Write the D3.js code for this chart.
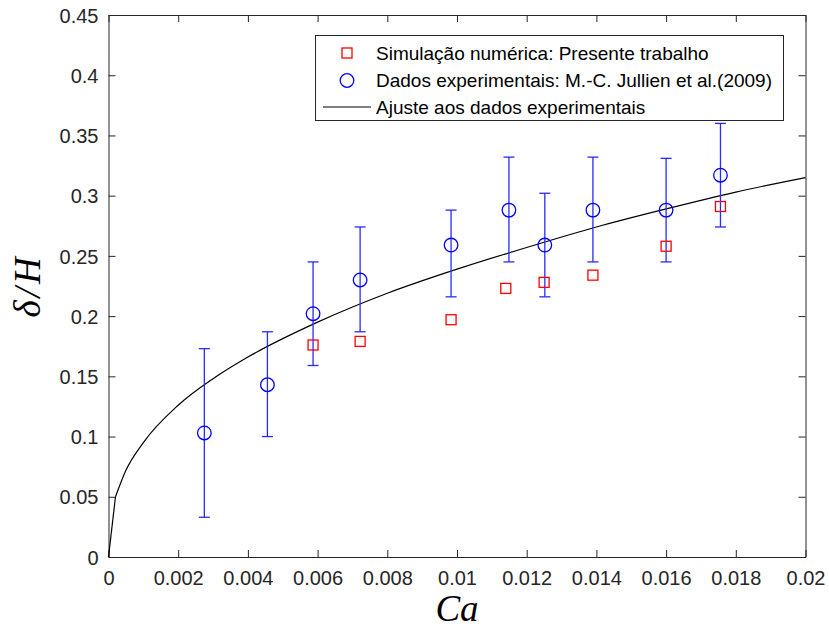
<!DOCTYPE html>
<html>
<head>
<meta charset="utf-8">
<script src="https://cdn.jsdelivr.net/npm/d3@7"></script>
<style>
  body { margin: 0; background: #fff; }
  svg { display: block; }
  .tick text { font-family: "Liberation Sans", Arial, sans-serif; font-size: 20px; fill: #262626; }
</style>
</head>
<body>
<div id="chart"></div>
<script>
// numerical simulation (red squares)
const simCa = [0.00587, 0.00722, 0.00983, 0.0114, 0.0125, 0.0139, 0.0160, 0.01756];
const simDelta = [0.176, 0.179, 0.197, 0.223, 0.228, 0.234, 0.258, 0.291];

// experimental data, Jullien et al. (blue circles + error bars)
const expCa = [0.00275, 0.00456, 0.00587, 0.00722, 0.00983, 0.01149, 0.01252, 0.0139, 0.0160, 0.01756];
const expDelta = [0.103, 0.143, 0.202, 0.230, 0.259, 0.288, 0.259, 0.288, 0.288, 0.317];
const expErrLow = [0.070, 0.043, 0.043, 0.043, 0.043, 0.043, 0.043, 0.043, 0.043, 0.043];
const expErrHigh = [0.070, 0.044, 0.043, 0.044, 0.029, 0.044, 0.043, 0.044, 0.043, 0.043];

// fit curve
const fitCa = [0, 0.0002, 0.0005, 0.001, 0.002, 0.003, 0.004, 0.006, 0.008, 0.010, 0.012, 0.014, 0.016, 0.018, 0.020];
const fitDelta = [0, 0.050, 0.072, 0.095, 0.126, 0.148, 0.166, 0.195, 0.219, 0.239, 0.257, 0.274, 0.289, 0.303, 0.315];

const xTicks = [0, 0.002, 0.004, 0.006, 0.008, 0.01, 0.012, 0.014, 0.016, 0.018, 0.02];
const yTicks = [0, 0.05, 0.1, 0.15, 0.2, 0.25, 0.3, 0.35, 0.4, 0.45];

const legendLabels = [
  "Simulação numérica: Presente trabalho",
  "Dados experimentais: M.-C. Jullien et al.(2009)",
  "Ajuste aos dados experimentais"
];

const W = 829, H = 632;
const plotL = 108.5, plotR = 805.5, plotT = 15, plotB = 557;
const axisColor = "#262626";

const svg = d3.select("#chart").append("svg")
  .attr("width", W)
  .attr("height", H);

const x = d3.scaleLinear().domain([0, 0.02]).range([plotL, plotR]);
const y = d3.scaleLinear().domain([0, 0.45]).range([plotB, plotT]);

const fmt = d => String(+d.toFixed(4));

// axes with inward ticks
const gx = svg.append("g")
  .attr("transform", `translate(0,${plotB})`)
  .call(d3.axisBottom(x).tickValues(xTicks).tickFormat(fmt).tickSizeInner(-7).tickSizeOuter(0).tickPadding(14));
const gy = svg.append("g")
  .attr("transform", `translate(${plotL},0)`)
  .call(d3.axisLeft(y).tickValues(yTicks).tickFormat(fmt).tickSizeInner(-7).tickSizeOuter(0).tickPadding(10));
const gx2 = svg.append("g")
  .attr("transform", `translate(0,${plotT})`)
  .call(d3.axisTop(x).tickValues(xTicks).tickFormat("").tickSizeInner(-7).tickSizeOuter(0));
const gy2 = svg.append("g")
  .attr("transform", `translate(${plotR},0)`)
  .call(d3.axisRight(y).tickValues(yTicks).tickFormat("").tickSizeInner(-7).tickSizeOuter(0));

[gx, gy, gx2, gy2].forEach(g => {
  g.select(".domain").attr("stroke", axisColor);
  g.selectAll(".tick line").attr("stroke", axisColor);
});
gy.selectAll(".tick text").attr("dy", "0.36em");

// fit curve: straight first segment, smooth afterwards
const fitPts = fitCa.map((c, i) => [c, fitDelta[i]]);
const fitG = svg.append("g")
  .attr("fill", "none")
  .attr("stroke", "#000")
  .attr("stroke-width", 1.2);
fitG.append("path")
  .datum(fitPts.slice(0, 2))
  .attr("d", d3.line().x(d => x(d[0])).y(d => y(d[1])));
fitG.append("path")
  .datum(fitPts.slice(1))
  .attr("d", d3.line().x(d => x(d[0])).y(d => y(d[1])).curve(d3.curveMonotoneX));

// error bars
const exp = expCa.map((c, i) => ({ c, d: expDelta[i], lo: expErrLow[i], hi: expErrHigh[i] }));
const eb = svg.append("g").attr("stroke", "#2a2aff").attr("stroke-width", 1.3);
eb.selectAll("line.v").data(exp).enter().append("line")
  .attr("x1", d => x(d.c)).attr("x2", d => x(d.c))
  .attr("y1", d => y(d.d - d.lo)).attr("y2", d => y(d.d + d.hi));
eb.selectAll("line.t").data(exp).enter().append("line")
  .attr("x1", d => x(d.c) - 5.5).attr("x2", d => x(d.c) + 5.5)
  .attr("y1", d => y(d.d + d.hi)).attr("y2", d => y(d.d + d.hi));
eb.selectAll("line.b").data(exp).enter().append("line")
  .attr("x1", d => x(d.c) - 5.5).attr("x2", d => x(d.c) + 5.5)
  .attr("y1", d => y(d.d - d.lo)).attr("y2", d => y(d.d - d.lo));

// squares
const sim = simCa.map((c, i) => ({ c, d: simDelta[i] }));
svg.append("g").selectAll("rect").data(sim).enter().append("rect")
  .attr("x", d => x(d.c) - 5).attr("y", d => y(d.d) - 5)
  .attr("width", 10).attr("height", 10)
  .attr("fill", "none").attr("stroke", "#ff0000").attr("stroke-width", 1.3);

// circles
svg.append("g").selectAll("circle").data(exp).enter().append("circle")
  .attr("cx", d => x(d.c)).attr("cy", d => y(d.d)).attr("r", 6.8)
  .attr("fill", "none").attr("stroke", "#0000ff").attr("stroke-width", 1.3);

// legend
const lg = svg.append("g");
lg.append("rect")
  .attr("x", 315.5).attr("y", 35.5).attr("width", 468).attr("height", 85)
  .attr("fill", "#fff").attr("stroke", axisColor).attr("stroke-width", 1);
const rowY = [53, 80.5, 107];
lg.append("rect").attr("x", 342).attr("y", rowY[0] - 5).attr("width", 10).attr("height", 10)
  .attr("fill", "none").attr("stroke", "#ff0000").attr("stroke-width", 1.3);
lg.append("circle").attr("cx", 347).attr("cy", rowY[1]).attr("r", 6.8)
  .attr("fill", "none").attr("stroke", "#0000ff").attr("stroke-width", 1.3);
lg.append("line").attr("x1", 323).attr("x2", 371).attr("y1", rowY[2]).attr("y2", rowY[2])
  .attr("stroke", "#000").attr("stroke-width", 1.2);
lg.selectAll("text").data(legendLabels).enter().append("text")
  .attr("x", 376).attr("y", (d, i) => rowY[i])
  .attr("dy", "0.36em")
  .attr("font-family", "'Liberation Sans', Arial, sans-serif")
  .attr("font-size", 19)
  .attr("fill", "#000")
  .text(d => d);

// axis labels
svg.append("text")
  .attr("x", (plotL + plotR) / 2).attr("y", 621)
  .attr("text-anchor", "middle")
  .attr("font-family", "'Liberation Serif', 'DejaVu Serif', serif")
  .attr("font-style", "italic")
  .attr("font-size", 37)
  .attr("fill", "#000")
  .text("Ca");

svg.append("text")
  .attr("transform", `translate(40,${(plotT + plotB) / 2}) rotate(-90)`)
  .attr("text-anchor", "middle")
  .attr("font-family", "'Liberation Serif', 'DejaVu Serif', serif")
  .attr("font-style", "italic")
  .attr("font-size", 37)
  .attr("letter-spacing", 3)
  .attr("fill", "#000")
  .text("δ/H");
</script>
</body>
</html>
